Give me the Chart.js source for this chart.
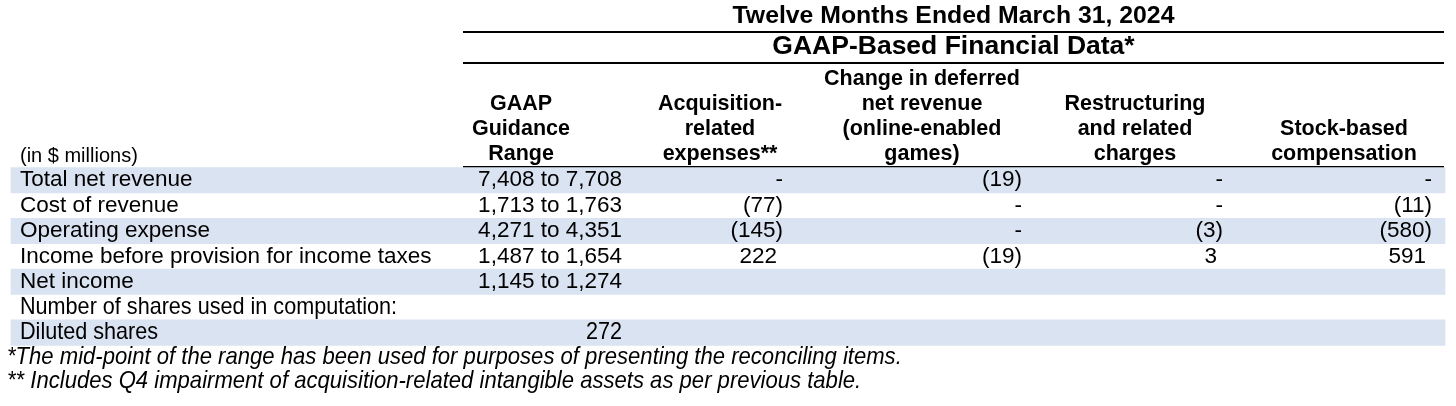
<!DOCTYPE html>
<html>
<head>
<meta charset="utf-8">
<script src="https://cdn.jsdelivr.net/npm/chart.js@4.4.1/dist/chart.umd.min.js"></script>
<style>
  html, body { margin: 0; padding: 0; background: #fff; }
  #wrap { position: relative; width: 1456px; height: 406px; }
</style>
</head>
<body>
<div id="wrap"><canvas id="reconChart"></canvas></div>
<script>
// table content
const title = 'Twelve Months Ended March 31, 2024';
const subtitle = 'GAAP-Based Financial Data*';
const unitsLabel = '(in $ millions)';
const columnHeaders = [
  ['GAAP', 'Guidance', 'Range'],
  ['Acquisition-', 'related', 'expenses**'],
  ['Change in deferred', 'net revenue', '(online-enabled', 'games)'],
  ['Restructuring', 'and related', 'charges'],
  ['Stock-based', 'compensation']
];
const rowLabels = [
  'Total net revenue',
  'Cost of revenue',
  'Operating expense',
  'Income before provision for income taxes',
  'Net income',
  'Number of shares used in computation:',
  'Diluted shares'
];
const guidanceRange = ['7,408 to 7,708', '1,713 to 1,763', '4,271 to 4,351', '1,487 to 1,654', '1,145 to 1,274', '', '272'];
const acquisitionRelated = ['-', '(77)', '(145)', '222', '', '', ''];
const deferredRevenue = ['(19)', '-', '-', '(19)', '', '', ''];
const restructuring = ['-', '-', '(3)', '3', '', '', ''];
const stockBased = ['-', '(11)', '(580)', '591', '', '', ''];
const shadedRows = [true, false, true, false, true, false, true];
const narrowRows = [false, false, false, false, false, true, true];
const footnotes = [
  '*The mid-point of the range has been used for purposes of presenting the reconciling items.',
  '** Includes Q4 impairment of acquisition-related intangible assets as per previous table.'
];

// layout, in page pixels (the x and y scales run 0..1456 and 0..406)
const W = 1456, H = 406;
const rowCenters = [180.2, 205.6, 231, 256.4, 281.8, 307.2, 332.6];
const rowHeight = 25.4;
const headerLineYs = [79, 104, 129, 154];
const columnCenters = [521, 720, 922, 1135, 1344];
const columnRights = [622, 783, 1022, 1223, 1432];
const ruleYs = [32, 63, 167];
const ruleSpan = [463, 1444];
const bandSpan = [11, 1445];
const labelX = 20;
const footnoteX = 7;
const footnoteYs = [357, 381];

const FONT = '"Liberation Sans", Arial, sans-serif';
const bandColor = '#DAE3F1';

const bandData = rowCenters
  .map((yc, i) => shadedRows[i] ? { y: yc, x: bandSpan } : null)
  .filter(d => d);

const ruleSets = ruleYs.map(yy => ({
  type: 'line',
  data: [{ x: ruleSpan[0], y: yy }, { x: ruleSpan[1], y: yy }],
  borderColor: '#000',
  borderWidth: 2,
  pointRadius: 0,
  clip: false
}));

const tableText = {
  id: 'tableText',
  afterDatasetsDraw(chart) {
    const { ctx, scales: { x, y } } = chart;
    const put = (text, xv, yv, font, align, squeeze) => {
      if (!text) return;
      ctx.save();
      ctx.font = font;
      ctx.fillStyle = '#000';
      ctx.textBaseline = 'middle';
      ctx.textAlign = align;
      ctx.translate(x.getPixelForValue(xv), y.getPixelForValue(yv));
      if (squeeze) ctx.scale(squeeze, 1);
      ctx.fillText(text, 0, 0);
      ctx.restore();
    };

    const midX = (ruleSpan[0] + ruleSpan[1]) / 2;
    put(title, midX, 16, 'bold 24.8px ' + FONT, 'center');
    put(subtitle, midX, 47, 'bold 26.5px ' + FONT, 'center');
    put(unitsLabel, labelX, 156, '20px ' + FONT, 'left');

    // column headers sit on the bottom header line
    columnHeaders.forEach((lines, c) => {
      const start = headerLineYs.length - lines.length;
      lines.forEach((t, k) => put(t, columnCenters[c], headerLineYs[start + k], 'bold 21.5px ' + FONT, 'center'));
    });

    const body = '22.5px ' + FONT;
    const narrow = '24px ' + FONT;
    ctx.save();
    ctx.font = body;
    const paren = ctx.measureText(')').width;
    ctx.restore();

    const cols = [guidanceRange, acquisitionRelated, deferredRevenue, restructuring, stockBased];
    rowLabels.forEach((lab, i) => {
      const squeeze = narrowRows[i] ? 0.9 : null;
      const font = narrowRows[i] ? narrow : body;
      put(lab, labelX, rowCenters[i], font, 'left', squeeze);
      cols.forEach((col, c) => {
        const v = col[i];
        if (!v) return;
        let right = columnRights[c];
        if (c > 0 && /^[0-9]/.test(v)) right -= paren * 0.8;
        put(v, right, rowCenters[i], font, 'right', squeeze);
      });
    });

    footnotes.forEach((t, i) => put(t, footnoteX, footnoteYs[i], 'italic 24px ' + FONT, 'left', 0.92));
  }
};

new Chart(document.getElementById('reconChart'), {
  data: {
    datasets: [
      {
        type: 'bar',
        indexAxis: 'y',
        data: bandData,
        backgroundColor: bandColor,
        borderWidth: 0,
        barThickness: rowHeight
      },
      ...ruleSets
    ]
  },
  options: {
    responsive: true,
    maintainAspectRatio: false,
    animation: false,
    events: [],
    layout: { padding: 0 },
    plugins: { legend: { display: false }, tooltip: { enabled: false } },
    scales: {
      x: { type: 'linear', min: 0, max: W, display: false, offset: false },
      y: { type: 'linear', min: 0, max: H, reverse: true, display: false, offset: false }
    }
  },
  plugins: [tableText]
});
</script>
</body>
</html>
